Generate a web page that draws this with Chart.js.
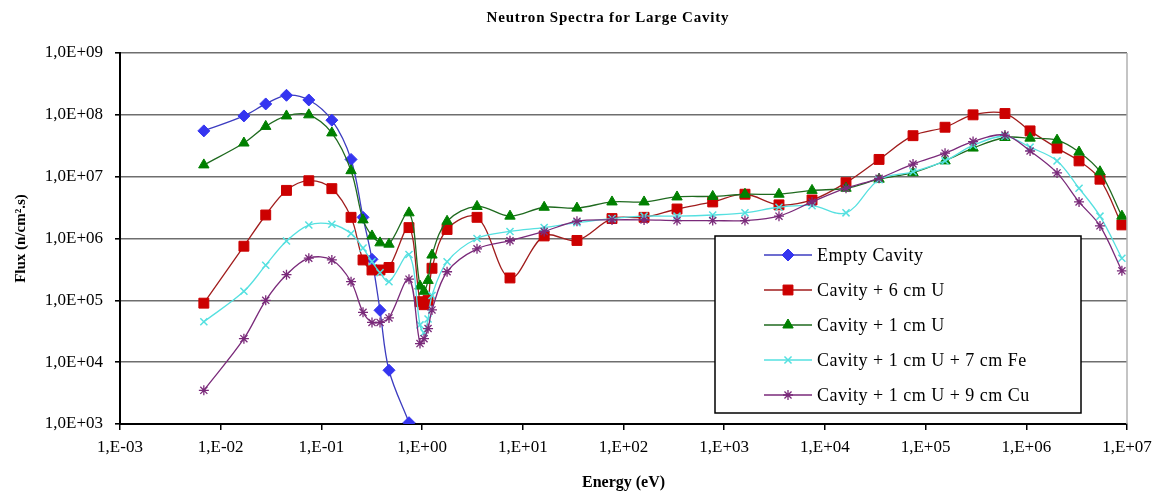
<!DOCTYPE html>
<html><head><meta charset="utf-8">
<script src="https://cdn.jsdelivr.net/npm/chart.js@4.4.0/dist/chart.umd.min.js"></script>
<style>html,body{margin:0;padding:0;background:#fff}</style>
</head><body>
<canvas id="c" width="1164" height="497"></canvas>
<script>
// ---- data ----
const chartTitle = 'Neutron Spectra for Large Cavity';
const xAxisTitle = 'Energy (eV)';
const yAxisTitle = 'Flux (n/cm².s)';
const seriesNames = ['Empty Cavity', 'Cavity + 6 cm U', 'Cavity + 1 cm U', 'Cavity + 1 cm U + 7 cm Fe', 'Cavity + 1 cm U + 9 cm Cu'];

const energy = [0.0068, 0.017, 0.028, 0.045, 0.075, 0.127, 0.197, 0.259, 0.318, 0.382, 0.469, 0.741,
  0.953, 1.045, 1.146, 1.254, 1.77, 3.51, 7.46, 16.3, 34.5, 76.9, 160, 340, 769, 1608, 3500, 7450,
  16200, 34500, 75000, 156000, 296000, 614000, 1.09e6, 2.02e6, 3.34e6, 5.39e6, 8.9e6];

const emptyCavity = [5.5e7, 9.6e7, 1.5e8, 2.07e8, 1.74e8, 8.2e7, 1.9e7, 2.2e6, 4.6e5, 6.9e4, 7.4e3, 1.05e3];

const cavity6U = [9e4, 7.5e5, 2.4e6, 6.0e6, 8.6e6, 6.4e6, 2.2e6, 4.5e5, 3.1e5, 3.1e5, 3.4e5, 1.5e6,
  9.5e4, 8.5e4, 1.0e5, 3.3e5, 1.4e6, 2.2e6, 2.3e5, 1.1e6, 9.3e5, 2.1e6, 2.2e6, 3.0e6, 3.9e6, 5.2e6, 3.5e6, 4.2e6,
  8.0e6, 1.9e7, 4.6e7, 6.3e7, 1.0e8, 1.05e8, 5.5e7, 2.9e7, 1.8e7, 9.1e6, 1.66e6];

const cavity1U = [1.55e7, 3.5e7, 6.5e7, 9.6e7, 1.0e8, 5.1e7, 1.25e7, 2.0e6, 1.1e6, 8.5e5, 8.1e5, 2.6e6,
  1.7e5, 1.4e5, 2.1e5, 5.4e5, 1.9e6, 3.3e6, 2.3e6, 3.2e6, 3.1e6, 3.9e6, 3.9e6, 4.7e6, 4.8e6, 5.2e6, 5.2e6, 6.0e6,
  6.5e6, 9.1e6, 1.16e7, 1.8e7, 2.9e7, 4.3e7, 4.2e7, 3.9e7, 2.5e7, 1.2e7, 2.3e6];

const cavity1U7Fe = [4.5e4, 1.4e5, 3.7e5, 9.1e5, 1.65e6, 1.7e6, 1.2e6, 7.0e5, 4.2e5, 2.8e5, 2.0e5, 5.5e5,
  4.0e4, 3.0e4, 5.0e4, 1.2e5, 4.2e5, 1.0e6, 1.3e6, 1.5e6, 1.8e6, 2.1e6, 2.3e6, 2.3e6, 2.4e6, 2.6e6, 3.2e6, 3.4e6,
  2.6e6, 8.9e6, 1.2e7, 1.8e7, 3.2e7, 4.5e7, 3.0e7, 1.8e7, 6.5e6, 2.3e6, 4.8e5];

const cavity1U9Cu = [3.5e3, 2.4e4, 1.0e5, 2.6e5, 4.8e5, 4.5e5, 2.0e5, 6.4e4, 4.4e4, 4.4e4, 5.2e4, 2.2e5,
  2.0e4, 2.4e4, 3.5e4, 7.0e4, 2.9e5, 6.8e5, 9.2e5, 1.3e6, 1.9e6, 2.0e6, 2.0e6, 1.95e6, 1.95e6, 1.95e6, 2.3e6, 3.9e6,
  6.5e6, 9.4e6, 1.6e7, 2.4e7, 3.7e7, 4.7e7, 2.6e7, 1.15e7, 3.9e6, 1.6e6, 3.0e5];

const xTickValues = [1e-3, 1e-2, 1e-1, 1e0, 1e1, 1e2, 1e3, 1e4, 1e5, 1e6, 1e7];
const xTickLabels = ['1,E-03', '1,E-02', '1,E-01', '1,E+00', '1,E+01', '1,E+02', '1,E+03', '1,E+04', '1,E+05', '1,E+06', '1,E+07'];
const yTickValues = [1e3, 1e4, 1e5, 1e6, 1e7, 1e8, 1e9];
const yTickLabels = ['1,0E+03', '1,0E+04', '1,0E+05', '1,0E+06', '1,0E+07', '1,0E+08', '1,0E+09'];

// ---- styling ----
const SERIF = '"Liberation Serif", "Times New Roman", serif';
const looks = [
  {line: '#3c3cc0', fill: '#3535f0', shape: 'rectRot', r: 6, bw: 1},
  {line: '#a01c1c', fill: '#cc0000', shape: 'rect', r: 7, bw: 1},
  {line: '#1f6a1f', fill: '#008000', shape: 'triangle', r: 6, bw: 1},
  {line: '#55e0e0', fill: '#55e0e0', shape: 'crossRot', r: 5, bw: 1.5},
  {line: '#7a2a7a', fill: '#7a2a7a', shape: 'star', r: 5, bw: 1.3}
];
const seriesValues = [emptyCavity, cavity6U, cavity1U, cavity1U7Fe, cavity1U9Cu];

const datasets = seriesValues.map((vals, i) => ({
  label: seriesNames[i],
  data: vals.map((v, k) => ({x: energy[k], y: v})),
  borderColor: looks[i].line,
  backgroundColor: looks[i].fill,
  borderWidth: 1.3,
  pointStyle: looks[i].shape,
  pointRadius: looks[i].r,
  pointBackgroundColor: looks[i].fill,
  pointBorderColor: looks[i].fill,
  pointBorderWidth: looks[i].bw,
  tension: 0.35,
  fill: false,
  order: 5 - i
}));

const extras = {
  id: 'extras',
  afterDraw(chart) {
    const ctx = chart.ctx;
    const ca = chart.chartArea;
    ctx.save();
    // right border of plot area
    ctx.strokeStyle = '#b0b0b0';
    ctx.lineWidth = 1.5;
    ctx.beginPath();
    ctx.moveTo(ca.right, ca.top);
    ctx.lineTo(ca.right, ca.bottom);
    ctx.stroke();
    // title
    ctx.fillStyle = '#000';
    ctx.font = 'bold 15px ' + SERIF;
    ctx.letterSpacing = '0.8px';
    ctx.textAlign = 'center';
    ctx.textBaseline = 'middle';
    ctx.fillText(chartTitle, 608, 18);
    // legend box
    const bx = 715, by = 236, bw = 366, bh = 177;
    ctx.fillStyle = '#fff';
    ctx.fillRect(bx, by, bw, bh);
    ctx.strokeStyle = '#000';
    ctx.lineWidth = 1.5;
    ctx.strokeRect(bx, by, bw, bh);
    ctx.font = '18px ' + SERIF;
    ctx.letterSpacing = '0.5px';
    ctx.textAlign = 'left';
    for (let i = 0; i < seriesNames.length; i++) {
      const y = 255 + i * 35;
      ctx.strokeStyle = looks[i].line;
      ctx.lineWidth = 1.3;
      ctx.beginPath();
      ctx.moveTo(764, y);
      ctx.lineTo(812, y);
      ctx.stroke();
      ctx.fillStyle = looks[i].fill;
      ctx.strokeStyle = looks[i].fill;
      ctx.lineWidth = looks[i].bw;
      Chart.helpers.drawPoint(ctx, {pointStyle: looks[i].shape, radius: looks[i].r, borderWidth: looks[i].bw, rotation: 0}, 788, y);
      ctx.fillStyle = '#000';
      ctx.fillText(seriesNames[i], 817, y + 1);
    }
    ctx.letterSpacing = '0px';
    ctx.restore();
  }
};

new Chart(document.getElementById('c'), {
  type: 'line',
  data: {datasets},
  options: {
    responsive: false,
    animation: false,
    devicePixelRatio: 1,
    layout: {padding: {top: 53, right: 37, left: 0, bottom: 0}},
    plugins: {legend: {display: false}, tooltip: {enabled: false}, title: {display: false}},
    scales: {
      x: {
        type: 'logarithmic', min: 1e-3, max: 1e7,
        afterBuildTicks: s => { s.ticks = xTickValues.map(v => ({value: v})); },
        afterFit: s => { s.height = 73; },
        grid: {drawOnChartArea: false, drawTicks: true, tickLength: 6, tickColor: '#000', lineWidth: 1.5},
        border: {display: true, color: '#000', width: 2},
        ticks: {autoSkip: false, maxRotation: 0, padding: 7, color: '#000',
          font: {family: SERIF, size: 17},
          callback: (v) => xTickLabels[xTickValues.indexOf(v)]},
        title: {display: true, text: xAxisTitle, color: '#000',
          font: {family: SERIF, size: 16, weight: 'bold'}, padding: {top: 0, bottom: 5}}
      },
      y: {
        type: 'logarithmic', min: 1e3, max: 1e9,
        afterBuildTicks: s => { s.ticks = yTickValues.map(v => ({value: v})); },
        afterFit: s => { s.width = 120; },
        grid: {color: '#6e6e6e', lineWidth: 1.6, drawTicks: true, tickLength: 5, tickColor: '#000'},
        border: {display: true, color: '#000', width: 2},
        ticks: {autoSkip: false, padding: 12, color: '#000',
          font: {family: SERIF, size: 17},
          callback: (v) => yTickLabels[yTickValues.indexOf(v)]},
        title: {display: true, text: yAxisTitle, color: '#000',
          font: {family: SERIF, size: 15, weight: 'bold'}, padding: {top: 12, bottom: 0}}
      }
    }
  },
  plugins: [extras]
});
</script>
</body></html>
